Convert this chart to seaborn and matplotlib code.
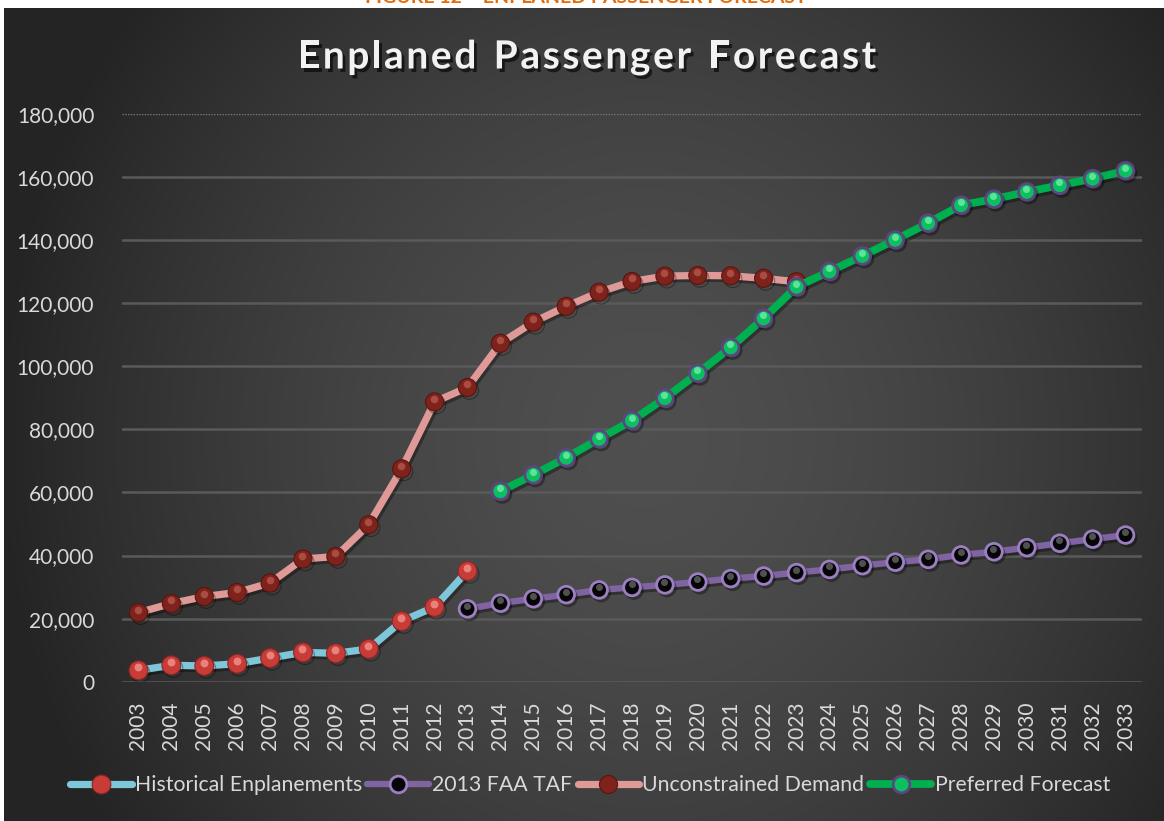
import numpy as np
import pandas as pd
import matplotlib
matplotlib.use("Agg")
import matplotlib.pyplot as plt
import matplotlib.patheffects as pe
import matplotlib.transforms as mtransforms
from matplotlib.lines import Line2D
from matplotlib.ticker import FuncFormatter
import seaborn as sns

# ---- data -------------------------------------------------------------
years = list(range(2003, 2034))

hist_years = list(range(2003, 2014))
historical = [3600, 5200, 5000, 5700, 7500, 9300, 9000, 10400, 19200, 23700, 35100]

taf_years = list(range(2013, 2034))
faa_taf = [23100, 24900, 26300, 27600, 29100, 29900, 30700, 31600, 32700, 33500,
           34600, 35600, 36800, 37900, 38800, 40200, 41200, 42500, 43900, 45200,
           46500]

unc_years = list(range(2003, 2024))
unconstrained = [21900, 24800, 27000, 28300, 31300, 38900, 39700, 49800, 67500, 88700,
                 93300, 107300, 114000, 119000, 123500, 126900, 128600, 128800, 128700,
                 127900, 126800]

pref_years = list(range(2014, 2034))
preferred = [60400, 65600, 71000, 77000, 82800, 89900, 97800, 106000, 115200, 125200,
             130100, 135000, 140100, 145400, 151100, 153000, 155300, 157400, 159500,
             162000]

series_names = ["Historical Enplanements", "2013 FAA TAF",
                "Unconstrained Demand", "Preferred Forecast"]
y_ticks = [0, 20000, 40000, 60000, 80000, 100000, 120000, 140000, 160000, 180000]

title = "Enplaned Passenger Forecast"
caption = "FIGURE 12 \u2013 ENPLANED PASSENGER FORECAST"

# ---- styles -----------------------------------------------------------
styles = {
    "Historical Enplanements": dict(line="#7ec6da", lw=5.2, face="#c83c38", edge="#8e2624",
                                    mew=0.8, ms=13.5, hi="#f39a92"),
    "2013 FAA TAF": dict(line="#8064a2", lw=4.6, face="#050505", edge="#9b7fc2",
                         mew=2.0, ms=12.0, hi="#6a6a6a"),
    "Unconstrained Demand": dict(line="#df9a98", lw=5.2, face="#7e231c", edge="#5a140f",
                                 mew=0.8, ms=13.0, hi="#b85a50"),
    "Preferred Forecast": dict(line="#00b050", lw=5.6, face="#0cc062", edge="#5c4680",
                               mew=2.0, ms=12.0, hi="#7af0ae"),
}

TEXT = "#d9d9d9"

sns.set_style("dark")
plt.rcParams["font.family"] = ["Lato", "DejaVu Sans"]

W, H, DPI = 1164, 821, 100
fig = plt.figure(figsize=(W / DPI, H / DPI), dpi=DPI, facecolor="white")
renderer = fig.canvas.get_renderer()

# dark panel with a soft radial gradient
bg = fig.add_axes([4 / W, 0, 1 - 4 / W, 1 - 8 / H], zorder=-10)
gh, gw = 813, 1160
yy, xx = np.mgrid[0:gh, 0:gw]
r = np.sqrt(((xx - 640) / 640.0) ** 2 + ((yy - 430) / 700.0) ** 2)
r = np.clip(r, 0, 1)
val = 0.31 - 0.165 * r ** 1.6
bg.imshow(np.dstack([val, val, val]), aspect="auto", interpolation="bilinear")
bg.set_axis_off()

# orange caption strip above the panel
fig.text(586 / W, 1 - 3 / H, caption,
         color="#e36c09", fontsize=14, fontweight="bold", ha="center", va="baseline")


def tracked_text(cx, cy, s, tracking, **kw):
    """Draw a string centred at pixel (cx, cy) with extra spacing between letters."""
    widths = []
    for ch in s:
        t = fig.text(0, 0, ch if ch != " " else "n", **kw)
        w = t.get_window_extent(renderer).width
        t.remove()
        widths.append(w * (0.55 if ch == " " else 1.0))
    total = sum(widths) + tracking * (len(s) - 1)
    x = cx - total / 2
    for ch, w in zip(s, widths):
        if ch != " ":
            fig.text(x / W, 1 - cy / H, ch, ha="left", va="center", **kw)
        x += w + tracking


# chart title with drop shadow
tracked_text(587, 57, title, 2.6, color="#f2f2f2", fontsize=28, fontweight="bold",
             path_effects=[pe.withSimplePatchShadow(offset=(2, -2.5),
                                                    shadow_rgbFace="black", alpha=0.6)])

ax = fig.add_axes([122 / W, 1 - 681.7 / H, (1142 - 122) / W, (681.7 - 114) / H])
ax.set_facecolor("none")
for s in ax.spines.values():
    s.set_visible(False)

ax.set_xlim(years[0] - 0.5, years[-1] + 0.5)
ax.set_ylim(0, 180000)
ax.set_yticks(y_ticks)
ax.yaxis.set_major_formatter(FuncFormatter(lambda v, p: f"{v:,.0f}"))
ax.set_xticks(years)
ax.set_xticklabels([str(y) for y in years], rotation=90)
ax.tick_params(axis="both", colors=TEXT, labelsize=15, length=0)
ax.tick_params(axis="y", pad=20)
ax.tick_params(axis="x", pad=14)
ax.grid(False)
for t in y_ticks:
    if t == 180000:
        ax.axhline(t, color="#7a7a7a", lw=1.0, ls=(0, (1, 1)), zorder=0)
    else:
        ax.axhline(t, color="#5a5a5a", lw=1.8, zorder=0)

shadow = [pe.SimpleLineShadow(offset=(1.5, -2.0), shadow_color="black", alpha=0.35),
          pe.Normal()]
hi_tr = mtransforms.offset_copy(ax.transData, fig=fig, x=-0.5, y=3.0, units="dots")

data = [
    ("Historical Enplanements", hist_years, historical),
    ("2013 FAA TAF", taf_years, faa_taf),
    ("Unconstrained Demand", unc_years, unconstrained),
    ("Preferred Forecast", pref_years, preferred),
]

for i, (name, xs, ys) in enumerate(data):
    st = styles[name]
    df = pd.DataFrame({"year": xs, "value": ys})
    sns.lineplot(data=df, x="year", y="value", ax=ax, color=st["line"], lw=st["lw"],
                 marker="o", markersize=st["ms"], markerfacecolor=st["face"],
                 markeredgecolor=st["edge"], markeredgewidth=st["mew"],
                 solid_capstyle="round", legend=False, zorder=3 + 2 * i,
                 path_effects=shadow)
    # specular highlight on each sphere marker
    ax.plot(xs, ys, ls="none", marker="o", ms=st["ms"] * 0.42, mfc=st["hi"], mec="none",
            alpha=0.75, transform=hi_tr, zorder=4 + 2 * i)

ax.set_xlabel("")
ax.set_ylabel("")

handles = []
for name in series_names:
    st = styles[name]
    handles.append(Line2D([0], [0], color=st["line"], lw=st["lw"], marker="o",
                          markersize=st["ms"], markerfacecolor=st["face"],
                          markeredgecolor=st["edge"], markeredgewidth=st["mew"],
                          solid_capstyle="round"))
fig.legend(handles, series_names, loc="center", bbox_to_anchor=(590 / W, 1 - 785 / H),
           ncol=4, frameon=False, fontsize=15.3, labelcolor=TEXT, handlelength=2.9,
           handletextpad=0.15, columnspacing=0.25, borderpad=0)

fig.savefig("out.png", dpi=DPI, facecolor="white")
